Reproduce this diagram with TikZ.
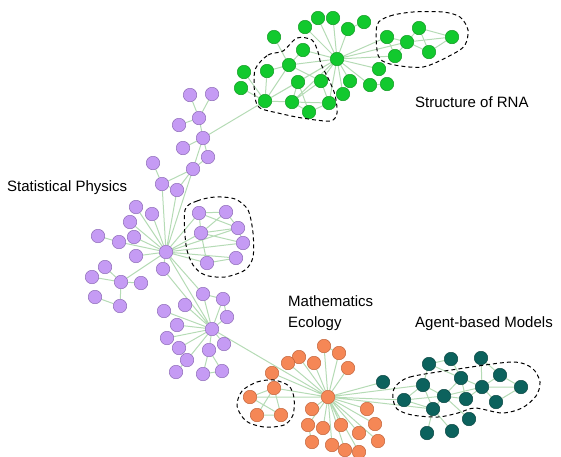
\documentclass[tikz,border=0pt]{standalone}
\usepackage{fontspec}
\setmainfont{Liberation Sans}
\usepackage{xcolor}
\usetikzlibrary{backgrounds}
\definecolor{rnagreen}{HTML}{12C92E}
\definecolor{rnaline}{HTML}{139A24}
\definecolor{physpurple}{HTML}{C59BF4}
\definecolor{physline}{HTML}{8E6CB8}
\definecolor{ecoorange}{HTML}{F58756}
\definecolor{ecoline}{HTML}{C2643A}
\definecolor{abmteal}{HTML}{0C625D}
\definecolor{abmline}{HTML}{084541}
\definecolor{linkgreen}{HTML}{B5DBB5}
\tikzset{
  vertex/.style={circle, inner sep=0pt, minimum size=13.5pt, line width=0.5pt},
  rna/.style ={vertex, draw=rnaline,  fill=rnagreen},
  phys/.style={vertex, draw=physline, fill=physpurple},
  eco/.style ={vertex, draw=ecoline,  fill=ecoorange},
  abm/.style ={vertex, draw=abmline,  fill=abmteal},
  link/.style={draw=linkgreen, line width=1pt},
  % community outline, dashed black
  group/.style={draw=black, dashed, dash pattern=on 4pt off 3pt, line width=1pt},
  field/.style={font=\fontsize{15}{18}\selectfont, inner sep=0pt, anchor=base west},
}

\begin{document}
\begin{tikzpicture}[x=1pt, y=-1pt]
\useasboundingbox (0,0) rectangle (561,456);

% ---------------------------------------------------------------- structure of RNA
\node[rna] (rhub) at (337,59) {};
\node[rna] (rt1) at (318,18) {};
\node[rna] (rt2) at (333,18) {};
\node[rna] (rt3) at (305,27) {};
\node[rna] (rt4) at (348,29) {};
\node[rna] (rt5) at (364,22) {};
\node[rna] (rc1) at (387,37) {};
\node[rna] (rc2) at (407,42) {};
\node[rna] (rc3) at (419,28) {};
\node[rna] (rc4) at (395,56) {};
\node[rna] (rc5) at (429,52) {};
\node[rna] (rc6) at (452,37) {};
\node[rna] (rr1) at (379,69) {};
\node[rna] (rr2) at (370,85) {};
\node[rna] (rr3) at (387,84) {};
\node[rna] (rr4) at (350,81) {};
\node[rna] (rr5) at (343,94) {};
\node[rna] (rl0) at (274,37) {};
\node[rna] (rl1) at (303,50) {};
\node[rna] (rl2) at (289,65) {};
\node[rna] (rl3) at (267,71) {};
\node[rna] (rl4) at (244,72) {};
\node[rna] (rl5) at (241,88) {};
\node[rna] (rl6) at (298,82) {};
\node[rna] (rl7) at (321,81) {};
\node[rna] (rl8) at (265,101) {};
\node[rna] (rl9) at (292,102) {};
\node[rna] (rl10) at (329,103) {};
\node[rna] (rl11) at (309,112) {};

% ---------------------------------------------------------------- statistical physics
\node[phys] (pc1) at (190,95) {};
\node[phys] (pc2) at (212,94) {};
\node[phys] (pc3) at (199,118) {};
\node[phys] (pc4) at (179,125) {};
\node[phys] (pc5) at (203,138) {};
\node[phys] (pc6) at (183,148) {};
\node[phys] (pc7) at (208,157) {};
\node[phys] (pc8) at (193,169) {};
\node[phys] (pc9) at (153,163) {};
\node[phys] (pc10) at (162,184) {};
\node[phys] (pc11) at (177,190) {};
\node[phys] (phub) at (166,252) {};
\node[phys] (pf1) at (136,207) {};
\node[phys] (pf2) at (152,214) {};
\node[phys] (pf3) at (130,222) {};
\node[phys] (pf4) at (134,237) {};
\node[phys] (pf5) at (119,242) {};
\node[phys] (pf6) at (98,236) {};
\node[phys] (pf7) at (136,256) {};
\node[phys] (pf8) at (163,269) {};
\node[phys] (ps0) at (121,282) {};
\node[phys] (ps1) at (105,267) {};
\node[phys] (ps2) at (92,277) {};
\node[phys] (ps3) at (141,283) {};
\node[phys] (ps4) at (95,297) {};
\node[phys] (ps5) at (120,306) {};
\node[phys] (pk1) at (199,213) {};
\node[phys] (pk2) at (226,212) {};
\node[phys] (pk3) at (201,233) {};
\node[phys] (pk4) at (238,228) {};
\node[phys] (pk5) at (243,243) {};
\node[phys] (pk6) at (236,258) {};
\node[phys] (pk7) at (207,263) {};
\node[phys] (phub2) at (212,329) {};
\node[phys] (pm1) at (203,294) {};
\node[phys] (pm2) at (223,299) {};
\node[phys] (pm3) at (185,305) {};
\node[phys] (pm4) at (164,311) {};
\node[phys] (pm5) at (227,317) {};
\node[phys] (pm6) at (177,325) {};
\node[phys] (pm7) at (167,338) {};
\node[phys] (pm8) at (179,348) {};
\node[phys] (pm9) at (224,344) {};
\node[phys] (pm10) at (209,350) {};
\node[phys] (pm11) at (187,360) {};
\node[phys] (pm12) at (176,372) {};
\node[phys] (pm13) at (203,374) {};
\node[phys] (pm14) at (222,371) {};

% ---------------------------------------------------------------- mathematics ecology
\node[eco] (ehub) at (328,397) {};
\node[eco] (e1) at (324,346) {};
\node[eco] (e2) at (339,353) {};
\node[eco] (e3) at (299,357) {};
\node[eco] (e4) at (288,363) {};
\node[eco] (e5) at (314,363) {};
\node[eco] (e6) at (348,368) {};
\node[eco] (e7) at (272,373) {};
\node[eco] (e8) at (312,409) {};
\node[eco] (e9) at (367,409) {};
\node[eco] (e10) at (308,425) {};
\node[eco] (e11) at (323,428) {};
\node[eco] (e12) at (341,425) {};
\node[eco] (e13) at (375,424) {};
\node[eco] (e14) at (359,433) {};
\node[eco] (e15) at (312,442) {};
\node[eco] (e16) at (332,445) {};
\node[eco] (e17) at (345,450) {};
\node[eco] (e18) at (359,452) {};
\node[eco] (e19) at (378,441) {};
\node[eco] (ek1) at (274,388) {};
\node[eco] (ek2) at (250,397) {};
\node[eco] (ek3) at (257,415) {};
\node[eco] (ek4) at (281,415) {};

% ---------------------------------------------------------------- agent-based models
\node[abm] (a1) at (383,382) {};
\node[abm] (a2) at (429,364) {};
\node[abm] (a3) at (451,359) {};
\node[abm] (a4) at (481,358) {};
\node[abm] (a5) at (423,385) {};
\node[abm] (a6) at (461,378) {};
\node[abm] (a7) at (500,375) {};
\node[abm] (a8) at (404,400) {};
\node[abm] (a9) at (444,396) {};
\node[abm] (a10) at (466,399) {};
\node[abm] (a11) at (482,387) {};
\node[abm] (a12) at (521,387) {};
\node[abm] (a13) at (496,402) {};
\node[abm] (a14) at (433,409) {};
\node[abm] (a15) at (469,419) {};
\node[abm] (a16) at (427,433) {};
\node[abm] (a17) at (452,431) {};

% ---------------------------------------------------------------- links
\begin{pgfonlayer}{background}
\draw[link] (rhub) -- (rt1) (rhub) -- (rt2) (rhub) -- (rt3) (rhub) -- (rt4) (rt4) -- (rt5)
  (rhub) -- (rc1) (rhub) -- (rc2) (rhub) -- (rc4) (rc1) -- (rc2) (rc1) -- (rc4)
  (rc2) -- (rc3) (rc2) -- (rc4) (rc2) -- (rc5) (rc2) -- (rc6) (rc3) -- (rc6)
  (rc3) -- (rc5) (rc5) -- (rc6)
  (rhub) -- (rr1) (rhub) -- (rr2) (rhub) -- (rr4) (rhub) -- (rr5) (rr2) -- (rr3)
  (rhub) -- (rl1) (rhub) -- (rl2) (rhub) -- (rl6) (rhub) -- (rl7) (rhub) -- (rl8)
  (rhub) -- (rl10) (rhub) -- (rl9) (rl0) -- (rl2) (rl1) -- (rl2) (rl2) -- (rl3)
  (rl3) -- (rl8) (rl4) -- (rl8) (rl5) -- (rl8) (rl2) -- (rl8) (rl8) -- (rl9)
  (rl8) -- (rl6) (rl6) -- (rl9) (rl6) -- (rl11) (rl7) -- (rl10) (rl7) -- (rl9)
  (rl9) -- (rl11) (rl9) -- (rl10) (rl11) -- (rl10) (rl2) -- (rl7);
\draw[link] (rl8) -- (pc5)
  (pc1) -- (pc3) (pc2) -- (pc3) (pc4) -- (pc3) (pc3) -- (pc5) (pc5) -- (pc6)
  (pc5) -- (pc7) (pc7) -- (pc8) (pc5) -- (pc8) (pc8) -- (pc10) (pc8) -- (pc11)
  (pc10) -- (pc11) (pc9) -- (pc10) (pc8) -- (phub) (pc10) -- (phub) (pc11) -- (phub)
  (phub) -- (pf1) (phub) -- (pf2) (phub) -- (pf3) (phub) -- (pf4) (phub) -- (pf5)
  (pf5) -- (pf6) (phub) -- (pf7) (phub) -- (pf8) (phub) -- (ps0)
  (ps0) -- (ps1) (ps0) -- (ps2) (ps0) -- (ps3) (ps0) -- (ps5) (ps4) -- (ps5)
  (phub) -- (pk1) (phub) -- (pk3) (phub) -- (pk4) (phub) -- (pk5) (phub) -- (pk6)
  (phub) -- (pk7) (pk1) -- (pk2) (pk1) -- (pk3) (pk2) -- (pk3) (pk3) -- (pk4)
  (pk3) -- (pk5) (pk3) -- (pk7) (pk7) -- (pk6) (pk4) -- (pk5) (pk2) -- (pk4)
  (pk1) -- (pk4)
  (phub) -- (phub2) (pf8) -- (phub2) (phub) -- (pm1)
  (phub2) -- (pm1) (phub2) -- (pm2) (phub2) -- (pm3) (phub2) -- (pm4) (phub2) -- (pm5)
  (phub2) -- (pm6) (phub2) -- (pm7) (phub2) -- (pm8) (phub2) -- (pm9) (phub2) -- (pm10)
  (phub2) -- (pm11) (pm1) -- (pm2) (pm2) -- (pm5) (pm11) -- (pm12) (pm10) -- (pm13)
  (pm10) -- (pm14) (pm13) -- (pm14);
\draw[link] (phub2) -- (ehub)
  (ehub) -- (e1) (ehub) -- (e2) (ehub) -- (e3) (ehub) -- (e4) (ehub) -- (e5)
  (ehub) -- (e6) (ehub) -- (e7) (ehub) -- (e8) (ehub) -- (e9) (ehub) -- (e10)
  (ehub) -- (e11) (ehub) -- (e12) (ehub) -- (e13) (ehub) -- (e14) (ehub) -- (e16)
  (ehub) -- (e17) (ehub) -- (e18) (ehub) -- (e19) (e10) -- (e15) (e3) -- (e4)
  (e1) -- (e2) (ehub) -- (ek1) (ehub) -- (ek2) (ek1) -- (ek2) (ek1) -- (ek3)
  (ek2) -- (ek4) (ek3) -- (ek4) (ek1) -- (ek4)
  (ehub) -- (a1) (ehub) -- (a5) (ehub) -- (a8) (ehub) -- (a14);
\draw[link] (a2) -- (a3) (a2) -- (a6) (a3) -- (a6) (a4) -- (a11) (a4) -- (a7)
  (a5) -- (a8) (a5) -- (a9) (a5) -- (a14) (a5) -- (a2) (a8) -- (a14) (a8) -- (a9)
  (a9) -- (a6) (a9) -- (a10) (a9) -- (a11) (a9) -- (a14) (a9) -- (a15) (a6) -- (a11)
  (a6) -- (a10) (a11) -- (a7) (a11) -- (a12) (a11) -- (a13) (a7) -- (a12)
  (a13) -- (a12) (a14) -- (a16) (a14) -- (a17) (a10) -- (a11);
\end{pgfonlayer}

% ---------------------------------------------------------------- communities
\draw[group] plot[smooth cycle] coordinates {(255,70) (268,55) (283,51) (297,38)
  (312,40) (318,52) (321,64) (329,80) (335,95) (337,113) (330,121) (302,118)
  (278,113) (260,108) (255,97)};
\draw[group] plot[smooth cycle] coordinates {(377,25) (390,16) (413,12) (443,12)
  (460,17) (468,30) (465,45) (453,54) (423,67) (390,64) (378,55)};
\draw[group] plot[smooth cycle] coordinates {(185,210) (197,201) (215,197)
  (235,199) (248,210) (253,233) (253,257) (245,270) (225,277) (205,275)
  (193,265) (186,245)};
\draw[group] plot[smooth cycle] coordinates {(242,391) (257,382) (274,380)
  (289,386) (294,398) (293,415) (284,425) (264,427) (246,421) (237,406)};
\draw[group] plot[smooth cycle] coordinates {(395,387) (410,377) (458,369)
  (512,362) (532,368) (540,382) (536,396) (522,408) (502,413) (475,408)
  (458,413) (438,417) (412,415) (397,409) (393,398)};

% ---------------------------------------------------------------- field names
\node[field] (rnalabel) at (415,107) {Structure of RNA};
\node[field] (physlabel) at (7,191) {Statistical Physics};
\node[field] (mathlabel) at (288,306) {Mathematics};
\node[field] (ecolabel) at (288,327) {Ecology};
\node[field] (abmlabel) at (415,327) {Agent-based Models};

\end{tikzpicture}
\end{document}
